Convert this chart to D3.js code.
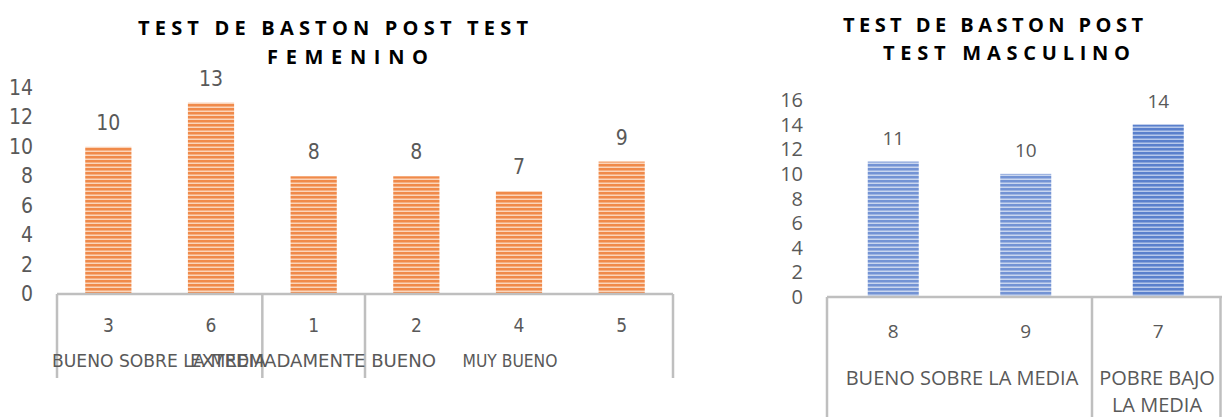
<!DOCTYPE html>
<html>
<head>
<meta charset="utf-8">
<script src="https://cdn.jsdelivr.net/npm/d3@7"></script>
<style>
  body { margin: 0; background: #fff; }
  svg { display: block; }
  text { fill: #595959; font-family: "Liberation Sans Narrow", "DejaVu Sans Condensed", "Open Sans", sans-serif; }
  .title { fill: #000; font-family: "Open Sans", "DejaVu Sans", sans-serif; font-weight: bold; }
  .r { font-family: "Open Sans", sans-serif; }
</style>
</head>
<body>
<div id="chart"></div>
<script>
(function() {

    var width = 1222,
    height = 417;

    // femenino
    var femCats = ["3", "6", "1", "2", "4", "5"];
    var femVals = [10, 13, 8, 8, 7, 9];
    var femGroups = ["BUENO SOBRE LA MEDIA", "EXTREMADAMENTE BUENO", "MUY BUENO"];
    var femGroupSize = [2, 1, 3];
    var femTicks = [0, 2, 4, 6, 8, 10, 12, 14];

    // masculino
    var masCats = ["8", "9", "7"];
    var masVals = [11, 10, 14];
    var masGroups = [["BUENO SOBRE LA MEDIA"], ["POBRE BAJO", "LA MEDIA"]];
    var masGroupSize = [2, 1];
    var masTicks = [0, 2, 4, 6, 8, 10, 12, 14, 16];

    var svg = d3.select("#chart")
    .append("svg")
    .attr("width", width)
    .attr("height", height)

    var defs = svg.append("defs")

    function stripes(id, dark, light) {
        var p = defs.append("pattern")
            .attr("id", id)
            .attr("patternUnits", "userSpaceOnUse")
            .attr("width", 8)
            .attr("height", 4)
        p.append("rect").attr("width", 8).attr("height", 4).attr("fill", dark)
        p.append("rect").attr("y", 2.5).attr("width", 8).attr("height", 1.5).attr("fill", light)
    }
    stripes("orng", "#F08A4A", "#FBD5BA")
    stripes("blu", "#7393D4", "#C9D6EF")
    stripes("blu2", "#5A80CC", "#B6C8EB")

    // ---------- left chart ----------
    var x1 = d3.scaleBand().domain(d3.range(femCats.length))
        .range([57, 673]).paddingInner(0.55).paddingOuter(0.275)
    var y1 = d3.scaleLinear().domain([0, 14]).range([294, 88])

    var left = svg.append("g")

    left.append("text").attr("class", "title")
        .attr("x", 138).attr("y", 35)
        .attr("textLength", 390).attr("lengthAdjust", "spacing")
        .style("font-size", "20px")
        .text("TEST DE BASTON  POST TEST")
    left.append("text").attr("class", "title")
        .attr("x", 267).attr("y", 64)
        .attr("textLength", 161).attr("lengthAdjust", "spacing")
        .style("font-size", "20px")
        .text("FEMENINO")

    left.selectAll(".ytick")
        .data(femTicks)
        .enter().append("text")
        .attr("x", 33)
        .attr("y", function(d){ return y1(d) + 7 })
        .attr("text-anchor", "end")
        .style("font-size", "21px")
        .text(function(d){ return d })

    left.selectAll(".bar")
        .data(femVals)
        .enter().append("rect")
        .attr("x", function(d, i){ return x1(i) })
        .attr("y", function(d){ return y1(d) })
        .attr("width", x1.bandwidth())
        .attr("height", function(d){ return y1(0) - y1(d) })
        .attr("fill", "url(#orng)")

    left.selectAll(".val")
        .data(femVals)
        .enter().append("text")
        .attr("x", function(d, i){ return x1(i) + x1.bandwidth() / 2 })
        .attr("y", function(d){ return y1(d) - 17 })
        .attr("text-anchor", "middle")
        .style("font-size", "21px")
        .text(function(d){ return d })

    // axis lines
    var gl = "#BFBFBF"
    left.append("line")
        .attr("x1", 57).attr("x2", 673).attr("y1", y1(0)).attr("y2", y1(0))
        .attr("stroke", gl).attr("stroke-width", 2.5)

    var step1 = x1.step(), pos = 0, bounds1 = [0]
    femGroupSize.forEach(function(n){ pos += n; bounds1.push(pos) })
    left.selectAll(".grp")
        .data(bounds1)
        .enter().append("line")
        .attr("x1", function(d){ return 57 + d * step1 })
        .attr("x2", function(d){ return 57 + d * step1 })
        .attr("y1", y1(0)).attr("y2", 378)
        .attr("stroke", gl).attr("stroke-width", 2.5)

    left.selectAll(".cat")
        .data(femCats)
        .enter().append("text")
        .attr("x", function(d, i){ return x1(i) + x1.bandwidth() / 2 })
        .attr("y", 332)
        .attr("text-anchor", "middle")
        .style("font-size", "19px")
        .text(function(d){ return d })

    // group labels are squeezed into the space like in the original
    var femLens = [214, 246, 95]
    var femCx = [159, 313, 510]
    left.selectAll(".glab")
        .data(femGroups)
        .enter().append("text")
        .attr("x", function(d, i){ return femCx[i] - femLens[i] / 2 })
        .attr("y", 367)
        .attr("textLength", function(d, i){ return femLens[i] })
        .attr("lengthAdjust", "spacingAndGlyphs")
        .style("font-size", "18px")
        .text(function(d){ return d })

    // ---------- right chart ----------
    var x2 = d3.scaleBand().domain(d3.range(masCats.length))
        .range([827, 1224.5]).paddingInner(0.615).paddingOuter(0.3075)
    var y2 = d3.scaleLinear().domain([0, 16]).range([297, 100])

    var right = svg.append("g")

    right.append("text").attr("class", "title")
        .attr("x", 843).attr("y", 32)
        .attr("textLength", 300).attr("lengthAdjust", "spacing")
        .style("font-size", "20px")
        .text("TEST DE BASTON  POST")
    right.append("text").attr("class", "title")
        .attr("x", 883).attr("y", 60)
        .attr("textLength", 247).attr("lengthAdjust", "spacing")
        .style("font-size", "20px")
        .text("TEST MASCULINO")

    right.selectAll(".ytick")
        .data(masTicks)
        .enter().append("text")
        .attr("class", "r")
        .attr("x", 803)
        .attr("y", function(d){ return y2(d) + 7 })
        .attr("text-anchor", "end")
        .style("font-size", "20px")
        .text(function(d){ return d })

    right.selectAll(".bar")
        .data(masVals)
        .enter().append("rect")
        .attr("x", function(d, i){ return x2(i) })
        .attr("y", function(d){ return y2(d) })
        .attr("width", x2.bandwidth())
        .attr("height", function(d){ return y2(0) - y2(d) })
        .attr("fill", function(d, i){ return i === 2 ? "url(#blu2)" : "url(#blu)" })

    right.selectAll(".val")
        .data(masVals)
        .enter().append("text")
        .attr("class", "r")
        .attr("x", function(d, i){ return x2(i) + x2.bandwidth() / 2 })
        .attr("y", function(d){ return y2(d) - 17 })
        .attr("text-anchor", "middle")
        .style("font-size", "19px")
        .text(function(d){ return d })

    right.append("line")
        .attr("x1", 827).attr("x2", 1222).attr("y1", y2(0)).attr("y2", y2(0))
        .attr("stroke", gl).attr("stroke-width", 2.5)

    var step2 = x2.step(), pos2 = 0, bounds2 = [0]
    masGroupSize.forEach(function(n){ pos2 += n; bounds2.push(pos2) })
    right.selectAll(".grp")
        .data(bounds2)
        .enter().append("line")
        .attr("x1", function(d){ return Math.min(827 + d * step2, 1220.5) })
        .attr("x2", function(d){ return Math.min(827 + d * step2, 1220.5) })
        .attr("y1", y2(0)).attr("y2", height)
        .attr("stroke", gl).attr("stroke-width", 2.5)

    right.selectAll(".cat")
        .data(masCats)
        .enter().append("text")
        .attr("class", "r")
        .attr("x", function(d, i){ return x2(i) + x2.bandwidth() / 2 })
        .attr("y", 338)
        .attr("text-anchor", "middle")
        .style("font-size", "19px")
        .text(function(d){ return d })

    var masCx = [962, 1157]
    masGroups.forEach(function(lines, gi){
        right.selectAll(".g" + gi)
            .data(lines)
            .enter().append("text")
            .attr("class", "r")
            .attr("x", masCx[gi])
            .attr("y", function(d, i){ return 385 + i * 27 })
            .attr("text-anchor", "middle")
            .style("font-size", "20px")
            .text(function(d){ return d })
    })

})();
</script>
</body>
</html>
